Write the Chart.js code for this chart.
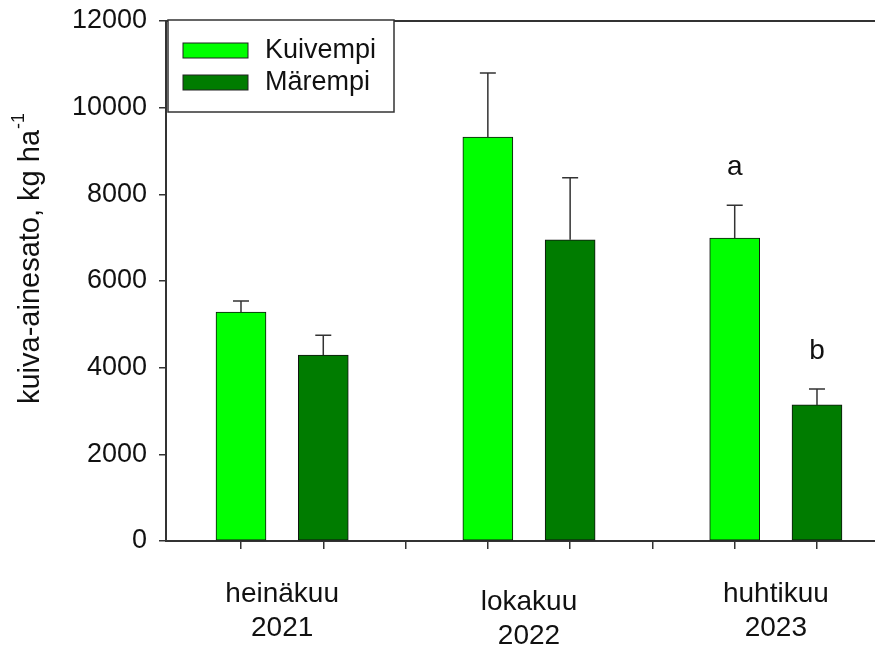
<!DOCTYPE html>
<html>
<head>
<meta charset="utf-8">
<script src="https://cdn.jsdelivr.net/npm/chart.js@4"></script>
<style>
html, body { margin: 0; padding: 0; background: #fff; overflow: hidden; }
</style>
</head>
<body>
<canvas id="yieldChart" width="875" height="648"></canvas>
<script>
// Dry matter yield data //
const groups = [['heinäkuu', '2021'], ['lokakuu', '2022'], ['huhtikuu', '2023']];
const seriesNames = ['Kuivempi', 'Märempi'];
const kuivempi = [5280, 9320, 6990];
const kuivempiErr = [260, 1480, 760];
const marempi = [4290, 6950, 3140];
const marempiErr = [460, 1430, 370];
const kuivempiLetters = ['', '', 'a'];
const marempiLetters = ['', '', 'b'];
const yTicks = [0, 2000, 4000, 6000, 8000, 10000, 12000];
const yTitle = 'kuiva-ainesato, kg ha';
const yTitleSup = '-1';

const FONT = "'Liberation Sans', Arial, sans-serif";
const INK = '#111';

// each group takes three slots on the x axis: two bars and a gap
function slot(groupIndex, seriesIndex) {
    return groupIndex * 3 + seriesIndex + 1;
}

function toPoints(values, seriesIndex) {
    return values.map((v, i) => ({ x: slot(i, seriesIndex), y: v }));
}

// top frame line
const framePlugin = {
    id: 'frame',
    afterDraw(chart) {
        const { ctx, chartArea } = chart;
        ctx.save();
        ctx.strokeStyle = '#333';
        ctx.lineWidth = 2;
        ctx.beginPath();
        ctx.moveTo(chartArea.left, chartArea.top);
        ctx.lineTo(chart.width, chartArea.top);
        ctx.stroke();
        ctx.restore();
    }
};

// rotated y title with superscript
const yTitlePlugin = {
    id: 'yTitle',
    afterDraw(chart) {
        const { ctx, chartArea } = chart;
        ctx.save();
        ctx.fillStyle = INK;
        ctx.font = '29px ' + FONT;
        const mainW = ctx.measureText(yTitle).width;
        ctx.font = '18px ' + FONT;
        const supW = ctx.measureText(yTitleSup).width;
        const total = mainW + supW;
        const cy = (chartArea.top + chartArea.bottom) / 2 - 22;
        ctx.translate(31, cy);
        ctx.rotate(-Math.PI / 2);
        ctx.textAlign = 'left';
        ctx.textBaseline = 'middle';
        ctx.font = '29px ' + FONT;
        ctx.fillText(yTitle, -total / 2, 0);
        ctx.font = '18px ' + FONT;
        ctx.fillText(yTitleSup, -total / 2 + mainW + 1, -12);
        ctx.restore();
    }
};

// error bars (upper only) and significance letters
const errorBarPlugin = {
    id: 'errorBars',
    afterDatasetsDraw(chart) {
        const { ctx } = chart;
        const yScale = chart.scales.y;
        ctx.save();
        chart.data.datasets.forEach((ds, di) => {
            const meta = chart.getDatasetMeta(di);
            meta.data.forEach((bar, i) => {
                const top = yScale.getPixelForValue(ds.data[i].y + ds.errors[i]);
                ctx.strokeStyle = '#333';
                ctx.lineWidth = 1.5;
                ctx.beginPath();
                ctx.moveTo(bar.x, bar.y);
                ctx.lineTo(bar.x, top);
                ctx.moveTo(bar.x - 8, top);
                ctx.lineTo(bar.x + 8, top);
                ctx.stroke();
                if (ds.letters[i]) {
                    ctx.fillStyle = INK;
                    ctx.font = '28px ' + FONT;
                    ctx.textAlign = 'center';
                    ctx.textBaseline = 'middle';
                    ctx.fillText(ds.letters[i], bar.x, top - 38);
                }
            });
        });
        ctx.restore();
    }
};

// two-line group labels under the x axis
const groupLabelPlugin = {
    id: 'groupLabels',
    afterDraw(chart) {
        const { ctx } = chart;
        const xScale = chart.scales.x;
        const base = chart.chartArea.bottom;
        ctx.save();
        ctx.fillStyle = INK;
        ctx.font = '28px ' + FONT;
        ctx.textAlign = 'center';
        ctx.textBaseline = 'alphabetic';
        groups.forEach((lines, g) => {
            const x = xScale.getPixelForValue(slot(g, 0.5));
            const drop = g % 2 === 1 ? 8 : 0;
            ctx.fillText(lines[0], x, base + 61 + drop);
            ctx.fillText(lines[1], x, base + 95 + drop);
        });
        ctx.restore();
    }
};

// boxed legend inside the plot area
const boxLegendPlugin = {
    id: 'boxLegend',
    afterDraw(chart) {
        const { ctx, chartArea } = chart;
        const left = chartArea.left + 2;
        const top = chartArea.top - 1;
        ctx.save();
        ctx.fillStyle = '#fff';
        ctx.fillRect(left, top, 226, 92);
        ctx.strokeStyle = '#333';
        ctx.lineWidth = 1.5;
        ctx.strokeRect(left, top, 226, 92);
        chart.data.datasets.forEach((ds, i) => {
            const cy = top + 30 + i * 32;
            ctx.fillStyle = ds.backgroundColor;
            ctx.fillRect(left + 15, cy - 7, 65, 15);
            ctx.strokeStyle = '#222';
            ctx.lineWidth = 1;
            ctx.strokeRect(left + 15, cy - 7, 65, 15);
            ctx.fillStyle = INK;
            ctx.font = '27px ' + FONT;
            ctx.textAlign = 'left';
            ctx.textBaseline = 'middle';
            ctx.fillText(ds.label, left + 97, cy + 1);
        });
        ctx.restore();
    }
};

function renderYieldChart() {
    const ctx = document.getElementById('yieldChart').getContext('2d');
    new Chart(ctx, {
        type: 'bar',
        data: {
            datasets: [{
                label: seriesNames[0],
                data: toPoints(kuivempi, 0),
                errors: kuivempiErr,
                letters: kuivempiLetters,
                backgroundColor: '#00ff00',
                borderColor: '#111',
                borderWidth: 1,
                borderSkipped: false,
                grouped: false,
                barThickness: 50
            }, {
                label: seriesNames[1],
                data: toPoints(marempi, 1),
                errors: marempiErr,
                letters: marempiLetters,
                backgroundColor: '#007c00',
                borderColor: '#111',
                borderWidth: 1,
                borderSkipped: false,
                grouped: false,
                barThickness: 50
            }]
        },
        options: {
            responsive: false,
            animation: false,
            devicePixelRatio: 1,
            layout: { padding: 0 },
            plugins: {
                legend: { display: false },
                tooltip: { enabled: false }
            },
            scales: {
                x: {
                    type: 'linear',
                    offset: false,
                    bounds: 'data',
                    min: 0.0886,
                    max: 8.705,
                    afterBuildTicks: (scale) => {
                        const ticks = [];
                        for (let v = Math.ceil(scale.min); v <= scale.max; v++) ticks.push({ value: v });
                        scale.ticks = ticks;
                    },
                    afterFit: (scale) => {
                        scale.height = 107;
                        scale.paddingLeft = 0;
                        scale.paddingRight = 0;
                    },
                    ticks: { callback: () => '', font: { size: 1 } },
                    grid: { offset: false, drawOnChartArea: false, tickLength: 8, color: '#333', lineWidth: 1.5 },
                    border: { color: '#333', width: 2 }
                },
                y: {
                    min: 0,
                    max: 12000,
                    afterBuildTicks: (scale) => { scale.ticks = yTicks.map(v => ({ value: v })); },
                    afterFit: (scale) => {
                        scale.width = 166;
                        scale.paddingTop = 21;
                        scale.paddingBottom = 0;
                    },
                    ticks: { color: INK, padding: 12, font: { family: FONT, size: 27 }, callback: (v) => String(v) },
                    grid: { drawOnChartArea: false, tickLength: 7, color: '#333', lineWidth: 1.5 },
                    border: { color: '#333', width: 2 }
                }
            }
        },
        plugins: [framePlugin, yTitlePlugin, errorBarPlugin, groupLabelPlugin, boxLegendPlugin]
    });
}

document.addEventListener('DOMContentLoaded', renderYieldChart);
</script>
</body>
</html>
